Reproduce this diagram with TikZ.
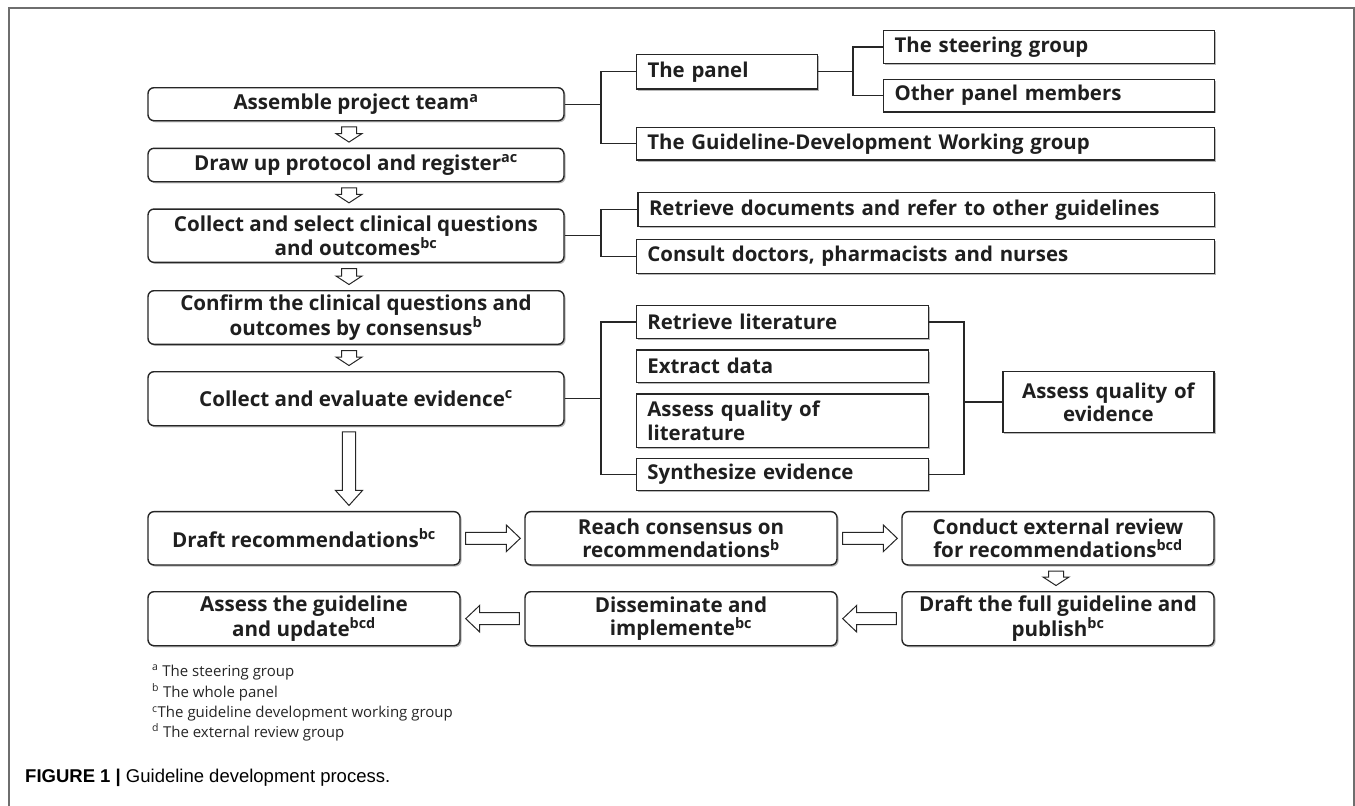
\documentclass[tikz,border=0pt]{standalone}
\usepackage{fontspec}
\setmainfont{Open Sans}
\newfontfamily\capfont{Liberation Sans}
\usetikzlibrary{calc,shadows}
\definecolor{linec}{HTML}{262626}
\definecolor{framec}{HTML}{6E6E6E}
\tikzset{
 shad/.style={drop shadow={shadow xshift=1.6pt,shadow yshift=-1.6pt,fill=black,opacity=0.28}},
 lbox/.style={draw=linec,line width=1.4pt,rounded corners=6pt,fill=white,shad,inner sep=0pt,align=center,font=\bfseries\fontsize{20.6}{23.3}\selectfont,text=black!88},
 rbox/.style={draw=linec,line width=1.4pt,fill=white,shad,inner xsep=11pt,inner ysep=0pt,align=left,font=\bfseries\fontsize{20.4}{23.3}\selectfont,text=black!88},
 conn/.style={draw=linec,line width=1.2pt},
 blk/.style={draw=linec,line width=1pt,fill=white,line join=miter},
 fnote/.style={anchor=base west,inner sep=0pt,font=\fontsize{15}{17}\selectfont,text=black!85},
}
% vertical block arrow: from, to, xshift, shaft half width, head half width, head length
\newcommand\vblk[6]{%
 \draw[blk] let \p1=($(#1.south)+(#3,5.5)$), \p2=($(#2.north)+(#3,-5.5)$) in
  (\x1-#4pt,\y1) -- (\x1+#4pt,\y1) -- (\x1+#4pt,\y2+#6pt) -- (\x1+#5pt,\y2+#6pt) -- (\x1,\y2)
  -- (\x1-#5pt,\y2+#6pt) -- (\x1-#4pt,\y2+#6pt) -- cycle;}
% right-pointing block arrow
\newcommand\rblk[2]{%
 \draw[blk] let \p1=($(#1.east)+(5,0)$), \p2=($(#2.west)+(-4,0)$) in
  (\x1,\y1+6pt) -- (\x2-14pt,\y1+6pt) -- (\x2-14pt,\y1+13.3pt) -- (\x2,\y1) -- (\x2-14pt,\y1-13.3pt)
  -- (\x2-14pt,\y1-6pt) -- (\x1,\y1-6pt) -- cycle;}
% left-pointing block arrow
\newcommand\lblk[2]{%
 \draw[blk] let \p1=($(#1.west)+(-5,0)$), \p2=($(#2.east)+(5,0)$) in
  (\x1,\y1+6pt) -- (\x2+14pt,\y1+6pt) -- (\x2+14pt,\y1+13.3pt) -- (\x2,\y1) -- (\x2+14pt,\y1-13.3pt)
  -- (\x2+14pt,\y1-6pt) -- (\x1,\y1-6pt) -- cycle;}
\begin{document}
\begin{tikzpicture}[x=1pt,y=-1pt]
\useasboundingbox (0,0) rectangle (1355,806);
\fill[white] (0,0) rectangle (1355,806);
\draw[framec,line width=1.5pt] (9,806) -- (9,8) -- (1354,8) -- (1354,806);

% left column
\node[lbox,minimum width=416pt,minimum height=33pt] (asm) at (356,104.2) {Assemble project team\textsuperscript{a}};
\node[lbox,minimum width=416pt,minimum height=33.4pt] (drw) at (356,165) {Draw up protocol and register\textsuperscript{ac}};
\node[lbox,minimum width=416pt,minimum height=53.3pt] (csel) at (356,235.7) {Collect and select clinical questions\\and outcomes\textsuperscript{bc}};
\node[lbox,minimum width=416pt,minimum height=53.6pt] (conf) at (356,317.5) {Confirm the clinical questions and\\outcomes by consensus\textsuperscript{b}};
\node[lbox,minimum width=416pt,minimum height=54pt] (ceval) at (356,398.7) {Collect and evaluate evidence\textsuperscript{c}};

% right side
\node[rbox,text width=159pt,minimum height=34.7pt] (panel) at (727,71.7) {The panel};
\node[rbox,text width=308.8pt,minimum height=32.6pt] (steer) at (1049,47) {The steering group};
\node[rbox,text width=308.8pt,minimum height=32.6pt] (other) at (1049,95.5) {Other panel members};
\node[rbox,text width=556pt,minimum height=32.7pt] (gdwg) at (925.4,143.7) {The Guideline-Development Working group};
\node[rbox,text width=554.4pt,minimum height=34pt] (retdoc) at (926.2,209.7) {Retrieve documents and refer to other guidelines};
\node[rbox,text width=556pt,minimum height=34pt] (consult) at (925.4,256.3) {Consult doctors, pharmacists and nurses};
\node[rbox,text width=269.8pt,minimum height=32.6pt] (retlit) at (782.3,322) {Retrieve literature};
\node[rbox,text width=269.8pt,minimum height=32.3pt] (extract) at (782.3,366.2) {Extract data};
\node[rbox,text width=269.8pt,minimum height=53.3pt] (asslit) at (782.3,420.7) {Assess quality of\\literature};
\node[rbox,text width=269.8pt,minimum height=32.4pt] (synth) at (782.3,474.5) {Synthesize evidence};
\node[rbox,text width=189.2pt,minimum height=60.6pt,align=center] (aqe) at (1108.4,402) {Assess quality of\\evidence};

% bottom rows
\node[lbox,minimum width=312pt,minimum height=53.3pt] (drec) at (304,538.3) {Draft recommendations\textsuperscript{bc}};
\node[lbox,minimum width=312pt,minimum height=53.3pt] (reach) at (681,538.3) {Reach consensus on\\recommendations\textsuperscript{b}};
\node[lbox,minimum width=312pt,minimum height=53.3pt] (cond) at (1058,538.3) {Conduct external review\\for recommendations\textsuperscript{bcd}};
\node[lbox,minimum width=312pt,minimum height=54pt] (assess) at (304,618.7) {Assess the guideline\\and update\textsuperscript{bcd}};
\node[lbox,minimum width=312pt,minimum height=54pt] (dissem) at (681,618.7) {Disseminate and\\implemente\textsuperscript{bc}};
\node[lbox,minimum width=312pt,minimum height=54pt] (dfull) at (1058,618.7) {Draft the full guideline and\\publish\textsuperscript{bc}};

% bracket coordinates
\coordinate (bx) at (601,0);
\coordinate (px) at (853,0);
\coordinate (rx) at (964,0);

\draw[conn] (asm.east) -- (asm.east -| bx);
\draw[conn] (panel.west) -- (panel.west -| bx) -- (gdwg.west -| bx) -- (gdwg.west);
\draw[conn] (panel.east) -- (panel.east -| px);
\draw[conn] (steer.west) -- (steer.west -| px) -- (other.west -| px) -- (other.west);
\draw[conn] (csel.east) -- (csel.east -| bx);
\draw[conn] (retdoc.west) -- (retdoc.west -| bx) -- (consult.west -| bx) -- (consult.west);
\draw[conn] (ceval.east) -- (ceval.east -| bx);
\draw[conn] (retlit.west) -- (retlit.west -| bx) -- (synth.west -| bx) -- (synth.west);
\draw[conn] (retlit.east) -- (retlit.east -| rx) -- (synth.east -| rx) -- (synth.east);
\draw[conn] (aqe.west -| rx) -- (aqe.west);

% block arrows
\vblk{asm}{drw}{-7}{7.5}{13}{8.5}
\vblk{drw}{csel}{-7}{7.5}{13}{8.5}
\vblk{csel}{conf}{-7}{7.5}{13}{8.5}
\vblk{conf}{ceval}{-7}{7.5}{13}{8.5}
\vblk{ceval}{drec}{-7}{6.7}{13.5}{15}
\rblk{drec}{reach}
\rblk{reach}{cond}
\vblk{cond}{dfull}{-2}{7.5}{13}{8.5}
\lblk{dfull}{dissem}
\lblk{dissem}{assess}

% footnotes
\node[fnote] (fa) at (152,676) {\textsuperscript{a} The steering group};
\node[fnote] (fb) at (152,697) {\textsuperscript{b} The whole panel};
\node[fnote] (fc) at (152,717.5) {\textsuperscript{c}The guideline development working group};
\node[fnote] (fd) at (152,737) {\textsuperscript{d} The external review group};

% caption
\node[anchor=base west,inner sep=0pt,font=\capfont\fontsize{18.5}{21}\selectfont] (cap) at (25,782) {\textbf{FIGURE 1 |} Guideline development process.};
\end{tikzpicture}
\end{document}
